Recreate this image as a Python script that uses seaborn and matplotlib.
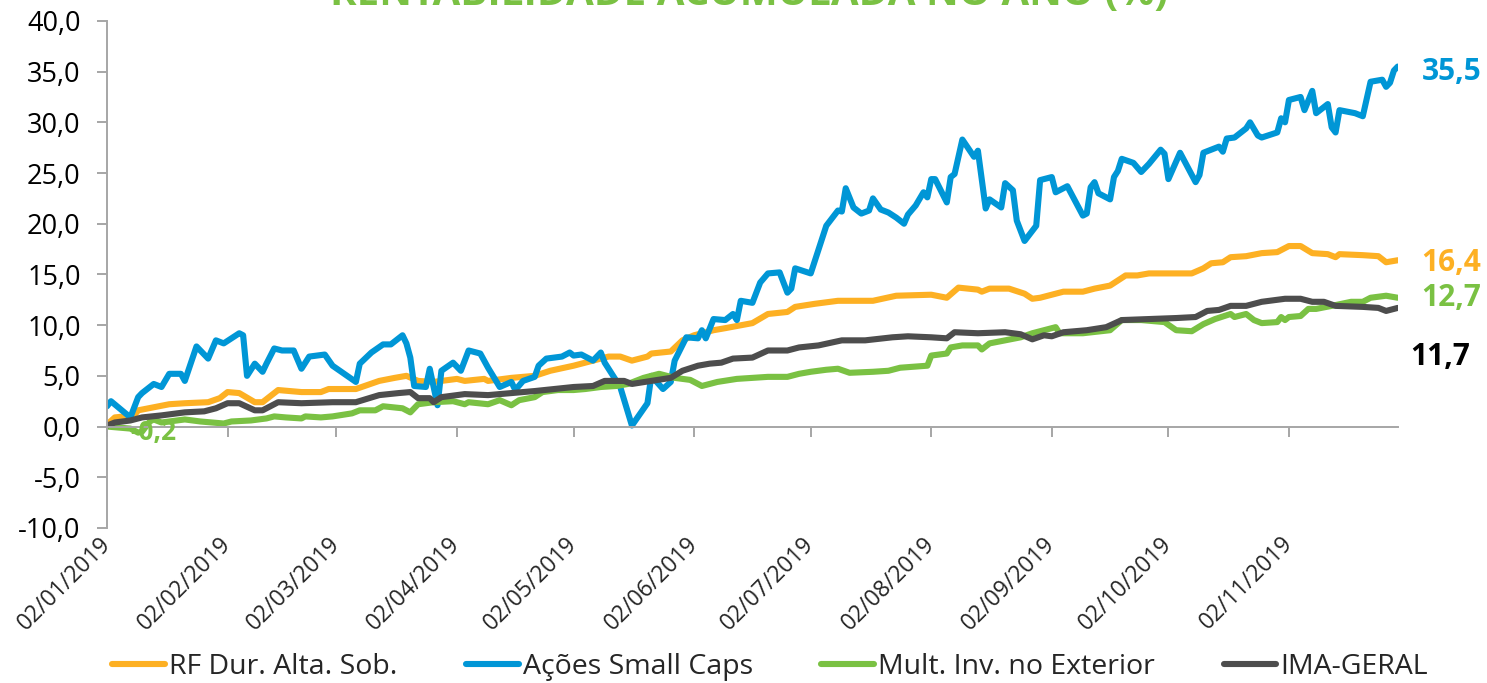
import numpy as np
import pandas as pd
import matplotlib
matplotlib.use("Agg")
import matplotlib.pyplot as plt
import seaborn as sns
from matplotlib.lines import Line2D
import matplotlib.dates as mdates

sns.set_theme(style="white")
plt.rcParams["font.family"] = ["Open Sans", "DejaVu Sans"]

# ---------------- data (days since 02/01/2019, accumulated return %) ----------------
series_names = ["RF Dur. Alta. Sob.", "Ações Small Caps", "Mult. Inv. no Exterior", "IMA-GERAL"]
series_colors = ["#fdb023", "#0096d6", "#7ac143", "#4d4d4d"]

rf_days = [0, 2, 7, 8, 12, 16, 20, 26, 29, 31, 34, 38, 40, 44, 47, 50, 55, 57, 64, 70, 74, 77, 80, 84,
           90, 92, 97, 98, 104, 110, 114, 120, 125, 129, 132, 135, 139, 140, 145, 148, 151, 156, 159,
           166, 170, 175, 177, 182, 188, 197, 203, 212, 216, 219, 224, 225, 227, 232, 236, 238, 240,
           242, 246, 251, 254, 258, 262, 265, 268, 279, 282, 284, 287, 289, 293, 297, 301, 304, 307,
           310, 314, 316, 317, 323, 327, 329, 332]
rf_vals = [0.2, 0.9, 1.1, 1.6, 1.9, 2.2, 2.3, 2.4, 2.8, 3.4, 3.3, 2.4, 2.4, 3.6, 3.5, 3.4, 3.4, 3.7, 3.7,
           4.5, 4.8, 5.0, 4.5, 4.4, 4.7, 4.5, 4.7, 4.5, 4.8, 5.0, 5.5, 6.0, 6.5, 6.9, 6.9, 6.5, 6.9, 7.2,
           7.4, 8.5, 9.0, 9.5, 9.7, 10.2, 11.1, 11.3, 11.8, 12.1, 12.4, 12.4, 12.9, 13.0, 12.7, 13.7,
           13.5, 13.3, 13.6, 13.6, 13.1, 12.6, 12.7, 12.9, 13.3, 13.3, 13.6, 13.9, 14.9, 14.9, 15.1,
           15.1, 15.6, 16.1, 16.2, 16.7, 16.8, 17.1, 17.2, 17.8, 17.8, 17.1, 17.0, 16.7, 17.0, 16.9,
           16.8, 16.2, 16.4]

sc_days = [0, 1, 6, 8, 9, 12, 14, 16, 19, 20, 23, 26, 28, 30, 34, 35, 36, 38, 40, 41, 43, 45, 48, 50,
           52, 56, 58, 64, 65, 68, 71, 73, 76, 77, 78, 79, 82, 83, 85, 86, 89, 91, 93, 96, 98, 101,
           104, 105, 107, 110, 111, 113, 117, 119, 120, 122, 125, 127, 128, 132, 135, 139, 140, 143,
           145, 146, 149, 152, 153, 154, 156, 159, 161, 162, 163, 166, 168, 170, 173, 175, 176, 177,
           181, 185, 188, 189, 190, 192, 194, 196, 197, 199, 201, 203, 205, 206, 208, 210, 211, 212,
           213, 216, 217, 218, 220, 223, 224, 226, 227, 230, 231, 233, 234, 236, 239, 240, 243, 244,
           247, 251, 252, 253, 254, 255, 258, 259, 260, 261, 264, 266, 268, 271, 272, 273, 276, 280,
           281, 282, 286, 287, 288, 290, 293, 294, 296, 297, 301, 302, 303, 304, 307, 308, 310, 311,
           314, 315, 316, 317, 321, 323, 325, 328, 329, 330, 331, 332]
sc_vals = [2.0, 2.5, 0.9, 2.9, 3.3, 4.2, 3.9, 5.2, 5.2, 4.5, 7.9, 6.7, 8.5, 8.2, 9.2, 9.0, 5.0, 6.2,
           5.4, 6.2, 7.7, 7.5, 7.5, 5.7, 6.9, 7.1, 6.0, 4.4, 6.2, 7.3, 8.1, 8.1, 9.0, 8.2, 6.8, 4.0,
           3.9, 5.7, 2.1, 5.5, 6.3, 5.5, 7.5, 7.2, 5.8, 3.9, 4.4, 3.6, 4.5, 4.9, 6.0, 6.7, 6.9, 7.3,
           7.0, 7.1, 6.5, 7.3, 6.3, 3.9, 0.1, 2.3, 5.0, 3.7, 4.4, 6.5, 8.8, 8.7, 9.5, 8.7, 10.6,
           10.5, 11.1, 10.5, 12.4, 12.2, 14.2, 15.1, 15.2, 13.2, 13.6, 15.6, 15.1, 19.8, 21.3, 21.2,
           23.5, 21.6, 21.0, 21.3, 22.5, 21.4, 21.1, 20.6, 20.0, 20.9, 21.8, 23.1, 22.6, 24.4, 24.4,
           22.1, 24.6, 24.9, 28.3, 26.6, 27.2, 21.5, 22.4, 21.6, 24.0, 23.3, 20.3, 18.3, 19.8, 24.3,
           24.6, 23.1, 23.7, 20.8, 21.0, 23.6, 24.1, 23.0, 22.4, 24.6, 25.2, 26.4, 26.0, 25.1, 25.9,
           27.3, 26.9, 24.4, 27.0, 24.1, 24.8, 27.0, 27.6, 27.1, 28.4, 28.5, 29.4, 30.0, 28.7, 28.5,
           29.0, 30.4, 30.0, 32.2, 32.5, 31.2, 33.1, 30.9, 31.8, 29.5, 29.0, 31.2, 30.9, 30.6, 34.0,
           34.2, 33.5, 33.9, 35.1, 35.5]

mx_days = [0, 3, 6, 8, 9, 11, 12, 14, 18, 20, 24, 30, 32, 37, 41, 43, 46, 50, 51, 55, 58, 63, 65, 69,
           71, 76, 78, 80, 84, 89, 92, 93, 98, 101, 104, 106, 110, 112, 116, 120, 123, 127, 131, 134,
           138, 142, 146, 150, 153, 157, 162, 170, 175, 178, 181, 185, 188, 191, 197, 201, 204, 211,
           212, 216, 217, 220, 224, 225, 227, 231, 235, 238, 241, 244, 245, 251, 258, 261, 266, 272,
           275, 279, 282, 285, 289, 290, 293, 295, 297, 301, 302, 303, 304, 307, 309, 311, 315, 320,
           323, 325, 327, 329, 332]
mx_vals = [0.0, -0.1, -0.2, -0.6, -0.5, 0.5, 0.7, 0.4, 0.6, 0.7, 0.5, 0.3, 0.5, 0.6, 0.8, 1.0, 0.9,
           0.8, 1.0, 0.9, 1.0, 1.3, 1.6, 1.6, 2.0, 1.8, 1.4, 2.2, 2.4, 2.5, 2.2, 2.4, 2.2, 2.6, 2.1,
           2.6, 2.9, 3.4, 3.6, 3.6, 3.7, 3.9, 4.0, 4.2, 4.8, 5.2, 4.8, 4.6, 4.0, 4.4, 4.7, 4.9, 4.9,
           5.2, 5.4, 5.6, 5.7, 5.3, 5.4, 5.5, 5.8, 6.0, 7.0, 7.2, 7.8, 8.0, 8.0, 7.6, 8.2, 8.5, 8.8,
           9.2, 9.5, 9.8, 9.2, 9.2, 9.5, 10.5, 10.5, 10.3, 9.5, 9.4, 10.1, 10.6, 11.1, 10.8, 11.1,
           10.5, 10.2, 10.3, 10.8, 10.5, 10.8, 10.9, 11.6, 11.6, 11.9, 12.3, 12.3, 12.7, 12.8, 12.9,
           12.7]

ima_days = [0, 2, 6, 9, 14, 20, 25, 28, 31, 34, 38, 40, 44, 50, 58, 64, 70, 75, 78, 80, 83, 84, 86,
            92, 98, 104, 110, 115, 120, 125, 128, 133, 135, 140, 145, 148, 152, 155, 158, 161, 166,
            170, 175, 178, 183, 189, 195, 202, 206, 212, 216, 218, 224, 231, 235, 238, 241, 243, 246,
            252, 257, 261, 268, 275, 280, 283, 286, 289, 293, 297, 303, 307, 310, 313, 316, 323, 327,
            329, 332]
ima_vals = [0.1, 0.4, 0.6, 0.9, 1.1, 1.4, 1.5, 1.8, 2.3, 2.3, 1.6, 1.6, 2.4, 2.3, 2.4, 2.4, 3.1, 3.3,
            3.4, 2.8, 2.8, 2.4, 2.9, 3.2, 3.1, 3.3, 3.5, 3.7, 3.9, 4.0, 4.5, 4.5, 4.2, 4.5, 4.8, 5.5,
            6.0, 6.2, 6.3, 6.7, 6.8, 7.5, 7.5, 7.8, 8.0, 8.5, 8.5, 8.8, 8.9, 8.8, 8.7, 9.3, 9.2, 9.3,
            9.1, 8.6, 9.0, 8.9, 9.3, 9.5, 9.8, 10.5, 10.6, 10.7, 10.8, 11.4, 11.5, 11.9, 11.9, 12.3,
            12.6, 12.6, 12.3, 12.3, 11.9, 11.8, 11.7, 11.4, 11.7]

end_labels = ["16,4", "35,5", "12,7", "11,7"]
min_label = "-0,2"
title_text = "RENTABILIDADE ACUMULADA NO ANO (%)"
x_tick_labels = ["02/01/2019", "02/02/2019", "02/03/2019", "02/04/2019", "02/05/2019", "02/06/2019",
                 "02/07/2019", "02/08/2019", "02/09/2019", "02/10/2019", "02/11/2019"]
y_ticks = [-10, -5, 0, 5, 10, 15, 20, 25, 30, 35, 40]

# ---------------- build frame ----------------
base = pd.Timestamp("2019-01-02")
all_days = [rf_days, sc_days, mx_days, ima_days]
all_vals = [rf_vals, sc_vals, mx_vals, ima_vals]
frames = []
for name, d, v in zip(series_names, all_days, all_vals):
    frames.append(pd.DataFrame({"date": base + pd.to_timedelta(d, unit="D"), "value": v, "series": name}))
df = pd.concat(frames, ignore_index=True)

# ---------------- figure ----------------
fig = plt.figure(figsize=(14.87, 6.83), dpi=100)
ax = fig.add_axes([0.072, 0.227, 0.868, 0.7424])

palette = dict(zip(series_names, series_colors))
sns.lineplot(data=df, x="date", y="value", hue="series", hue_order=series_names, palette=palette,
             estimator=None, sort=True, linewidth=4.4, legend=False, ax=ax)
for ln in ax.get_lines():
    ln.set_solid_capstyle("round")
    ln.set_solid_joinstyle("round")

x_end = base + pd.Timedelta(days=max(rf_days))
ax.set_xlim(base, x_end)
ax.set_ylim(-10, 40)
ax.set_xlabel("")
ax.set_ylabel("")

spine_col = "#a6a6a6"
for s in ["top", "right"]:
    ax.spines[s].set_visible(False)
ax.spines["left"].set_color(spine_col)
ax.spines["left"].set_linewidth(1.4)
ax.spines["bottom"].set_position(("data", 0))
ax.spines["bottom"].set_color(spine_col)
ax.spines["bottom"].set_linewidth(1.4)

ax.set_yticks(y_ticks)
ax.set_yticklabels([f"{v:.1f}".replace(".", ",") for v in y_ticks])
ax.tick_params(axis="y", direction="out", length=7, width=1.4, color=spine_col, pad=12,
               labelsize=19.5, labelcolor="black", left=True)

tick_dates = pd.to_datetime(x_tick_labels, format="%d/%m/%Y")
ax.set_xticks(tick_dates)
ax.tick_params(axis="x", direction="out", length=7, width=1.4, color=spine_col, labelbottom=False,
               bottom=True)

sec = ax.secondary_xaxis(0.0)
sec.set_xticks(mdates.date2num(tick_dates))
sec.set_xticklabels(x_tick_labels)
sec.spines["bottom"].set_visible(False)
sec.tick_params(axis="x", length=0, pad=9, labelsize=16.5)
for lbl in sec.get_xticklabels():
    lbl.set_rotation(45)
    lbl.set_ha("right")
    lbl.set_va("center")
    lbl.set_rotation_mode("anchor")

# end labels
end_offsets = [(17, -2), (17, -4), (17, 0), (9, -35)]
end_colors = ["#fdb023", "#0096d6", "#7ac143", "black"]
for d, v, lab, off, c in zip(all_days, all_vals, end_labels, end_offsets, end_colors):
    ax.annotate(lab, xy=(base + pd.Timedelta(days=d[-1]), v[-1]), xytext=off, textcoords="offset points",
                ha="left", va="center", fontsize=21.5, fontweight="bold", color=c, annotation_clip=False)

imin = int(np.argmin(mx_vals))
ax.annotate(min_label, xy=(base + pd.Timedelta(days=mx_days[imin]), mx_vals[imin]), xytext=(-6, 0),
            textcoords="offset points", ha="left", va="center", fontsize=19, fontweight="bold",
            color="#7ac143", zorder=10)

# legend
handles = [Line2D([0], [0], color=c, lw=4.4, solid_capstyle="round") for c in series_colors]
fig.legend(handles, series_names, loc="lower center", bbox_to_anchor=(0.518, -0.035), ncol=4,
           frameon=False, fontsize=20.5, handlelength=1.85, handletextpad=0.15, columnspacing=2.4)

fig.text(0.504, 0.993, title_text, ha="center", va="baseline", color="#7ac143", fontsize=29,
         fontweight="bold")

fig.savefig("out.png", dpi=100)
